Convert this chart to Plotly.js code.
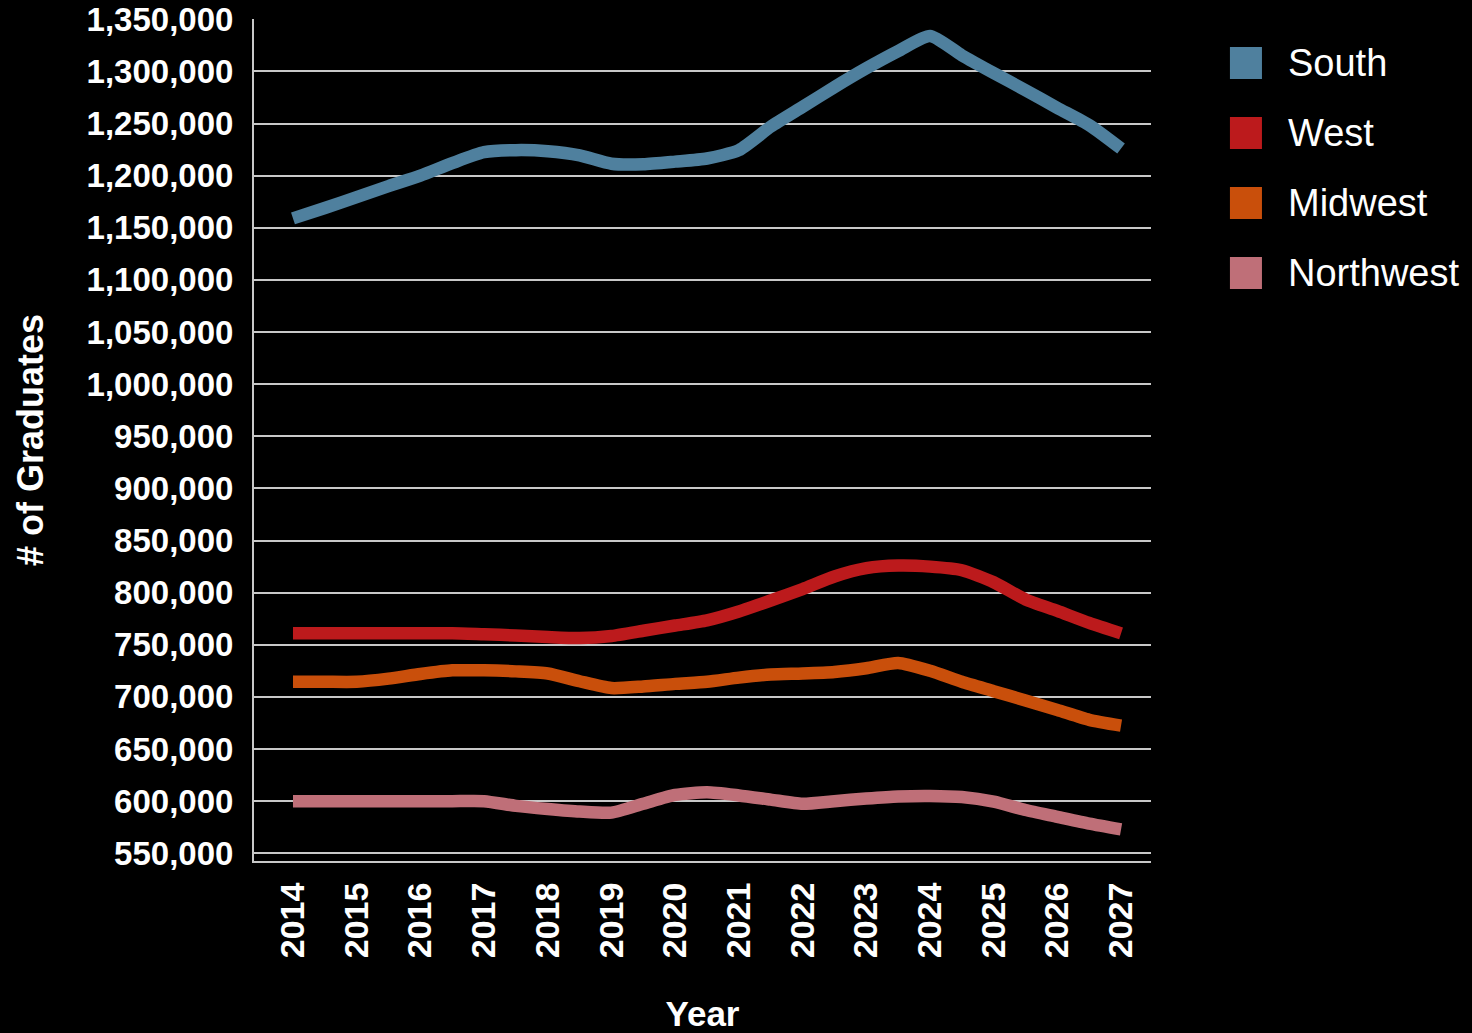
<!DOCTYPE html>
<html>
<head>
<meta charset="utf-8">
<script src="https://cdn.plot.ly/plotly-3.0.1.min.js"></script>
<style>
  html, body { margin: 0; padding: 0; background: #000; }
  #chart { width: 1472px; height: 1033px; }
</style>
</head>
<body>
<div id="chart"></div>
<script>
// ---- Data ----
const years = [2014, 2015, 2016, 2017, 2018, 2019, 2020, 2021, 2022, 2023, 2024, 2025, 2026, 2027];
const sampleX = [2014, 2014.5, 2015, 2015.5, 2016, 2016.5, 2017, 2017.5, 2018, 2018.5, 2019, 2019.5, 2020, 2020.5,
                 2021, 2021.5, 2022, 2022.5, 2023, 2023.5, 2024, 2024.5, 2025, 2025.5, 2026, 2026.5, 2027];

const south = [1159000, 1169000, 1179500, 1190000, 1200000, 1212000, 1222500, 1224500, 1223500, 1219500, 1211500, 1211000, 1213500, 1216500,
               1224500, 1247000, 1266000, 1285000, 1303000, 1319500, 1334000, 1315500, 1298500, 1282000, 1265000, 1248500, 1226000];
const west = [761000, 761000, 761000, 761000, 761000, 761000, 760000, 759000, 757500, 756500, 758500, 763500, 768500, 773500,
              782000, 792500, 803500, 815500, 823500, 826000, 825000, 821500, 810000, 793500, 782500, 771000, 761000];
const midwest = [714500, 714500, 714500, 717500, 722000, 725500, 725500, 724500, 722500, 715000, 708500, 710000, 712500, 714500,
                 718500, 721500, 722500, 724000, 727500, 732500, 725000, 714500, 705500, 696500, 687500, 678000, 672500];
const northwest = [600000, 600000, 600000, 600000, 600000, 600000, 600000, 595500, 592500, 590000, 589000, 597500, 606000, 608500,
                   605500, 601500, 597500, 600000, 602500, 604500, 605000, 604000, 599500, 591500, 585000, 578500, 573000];

const seriesNames = ["South", "West", "Midwest", "Northwest"];
const seriesValues = [south, west, midwest, northwest];
const seriesColors = ["#4F809E", "#BC1A1C", "#C94F0B", "#BF6F78"];

const yTitle = "# of Graduates";
const xTitle = "Year";

const FONT = "Liberation Sans, Arial, sans-serif";

// ---- Traces ----
const traces = seriesNames.map((name, i) => ({
  type: "scatter",
  mode: "lines",
  name: name,
  x: sampleX,
  y: seriesValues[i],
  line: { color: seriesColors[i], width: 12.5, shape: "spline", smoothing: 0.6 },
  showlegend: false,
  hoverinfo: "x+y+name"
}));

// ---- Custom legend (square swatches) ----
const legTop = 0.9477, legStep = 0.0831, half = 0.019;
const shapes = seriesNames.map((n, i) => ({
  type: "rect", xref: "paper", yref: "paper",
  x0: 1.088, x1: 1.1237,
  y0: legTop - i * legStep - half, y1: legTop - i * legStep + half,
  fillcolor: seriesColors[i], line: { width: 0 }
}));
const annotations = seriesNames.map((n, i) => ({
  xref: "paper", yref: "paper",
  x: 1.1505, y: legTop - i * legStep,
  xanchor: "left", yanchor: "middle",
  text: n, showarrow: false,
  font: { family: FONT, size: 38, color: "#ffffff" }
}));

const layout = {
  width: 1472, height: 1033,
  paper_bgcolor: "#000000",
  plot_bgcolor: "#000000",
  margin: { l: 254, r: 321, t: 19, b: 172, pad: 0 },
  showlegend: false,
  font: { family: FONT, color: "#ffffff" },
  xaxis: {
    type: "linear",
    range: [2013.388, 2027.47],
    tickmode: "array",
    tickvals: years,
    ticktext: years.map(String),
    tickangle: -90,
    tickfont: { family: FONT, size: 34, color: "#ffffff", weight: "bold" },
    ticks: "outside", ticklen: 6, tickcolor: "rgba(0,0,0,0)",
    showgrid: false, zeroline: false,
    showline: true, linecolor: "#c8c8c8", linewidth: 2,
    title: { text: xTitle, standoff: 53,
             font: { family: FONT, size: 35, color: "#ffffff", weight: "bold" } }
  },
  yaxis: {
    range: [542600, 1350300],
    tick0: 550000, dtick: 50000,
    tickformat: ",d",
    tickfont: { family: FONT, size: 33, color: "#ffffff", weight: "bold" },
    ticks: "outside", ticklen: 12, tickcolor: "rgba(0,0,0,0)",
    showgrid: true, gridcolor: "#c8c8c8", gridwidth: 2,
    zeroline: false,
    showline: true, linecolor: "#c8c8c8", linewidth: 2,
    title: { text: yTitle, standoff: 32,
             font: { family: FONT, size: 36, color: "#ffffff", weight: "bold" } }
  },
  shapes: shapes,
  annotations: annotations
};

Plotly.newPlot("chart", traces, layout, { displayModeBar: false, staticPlot: true });
</script>
</body>
</html>
